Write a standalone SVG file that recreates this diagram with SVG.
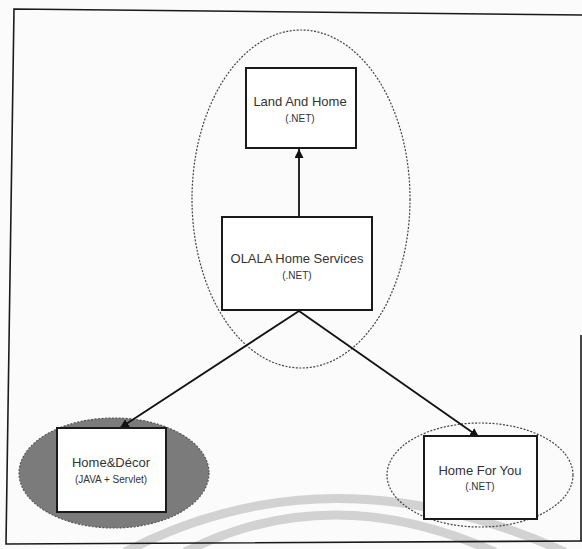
<svg xmlns="http://www.w3.org/2000/svg" width="582" height="549" viewBox="0 0 582 549">
  <style>
    .frame { fill: none; stroke: #1a1a1a; stroke-width: 1.6; }
    .zone { fill: none; stroke: #444; stroke-width: 1.2; stroke-dasharray: 2 1.5; }
    .zone-dark { fill: #7b7b7b; stroke: #555; stroke-width: 1.2; stroke-dasharray: 2 1.5; }
    .box { fill: #fff; stroke: #1a1a1a; stroke-width: 2; }
    .conn { fill: none; stroke: #111; stroke-width: 1.8; }
    .title { font-family: "Liberation Sans", Arial, sans-serif; font-size: 13px; fill: #333; text-anchor: middle; }
    .sub { font-family: "Liberation Sans", Arial, sans-serif; font-size: 10px; fill: #333; text-anchor: middle; }
    .mark { fill: none; stroke: #d2d2d2; stroke-width: 9; }
  </style>
  <defs>
    <marker id="head" viewBox="0 0 10 10" refX="10" refY="5" markerWidth="7" markerHeight="7" markerUnits="userSpaceOnUse" orient="auto">
      <path d="M0,0 L10,5 L0,10 z" fill="#111"/>
    </marker>
    <marker id="head-lg" viewBox="0 0 10 10" refX="10" refY="5" markerWidth="9" markerHeight="9" markerUnits="userSpaceOnUse" orient="auto">
      <path d="M0,0 L10,5 L0,10 z" fill="#111"/>
    </marker>
  </defs>
  <rect width="582" height="549" fill="#fbfbfb"/>

  <!-- background arcs -->
  <path class="mark" d="M125,552 Q330,445 565,552"/>
  <path class="mark" d="M185,552 Q330,478 495,552"/>

  <!-- outer frame -->
  <path class="frame" d="M582,15 L14,9 L6,544 L582,541"/>
  <path class="frame" d="M581,335 L581,541"/>

  <!-- grouping ellipses -->
  <g id="zones">
    <ellipse class="zone" cx="301" cy="199" rx="109" ry="169"/>
    <ellipse class="zone-dark" cx="114" cy="473" rx="95" ry="55"/>
    <ellipse class="zone" cx="480" cy="475" rx="93" ry="52"/>
  </g>

  <!-- connectors -->
  <g id="connectors">
    <line class="conn" x1="299" y1="217" x2="299" y2="149" marker-end="url(#head-lg)"/>
    <line class="conn" x1="299" y1="311" x2="120" y2="428" marker-end="url(#head-lg)"/>
    <line class="conn" x1="299" y1="311" x2="479" y2="437" marker-end="url(#head-lg)"/>
  </g>

  <g id="land-and-home">
    <rect class="box" x="246" y="68" width="110" height="80"/>
    <text class="title" x="300" y="106">Land And Home</text>
    <text class="sub" x="300" y="122">(.NET)</text>
  </g>

  <g id="olala-home-services">
    <rect class="box" x="222" y="217" width="150" height="93"/>
    <text class="title" x="297" y="263">OLALA Home Services</text>
    <text class="sub" x="297" y="279">(.NET)</text>
  </g>

  <g id="home-decor">
    <rect class="box" x="57" y="428" width="109" height="84"/>
    <text class="title" x="111" y="467">Home&amp;Décor</text>
    <text class="sub" x="111" y="483">(JAVA + Servlet)</text>
  </g>

  <g id="home-for-you">
    <rect class="box" x="424" y="436" width="113" height="83"/>
    <text class="title" x="480" y="475">Home For You</text>
    <text class="sub" x="480" y="490">(.NET)</text>
  </g>
</svg>
